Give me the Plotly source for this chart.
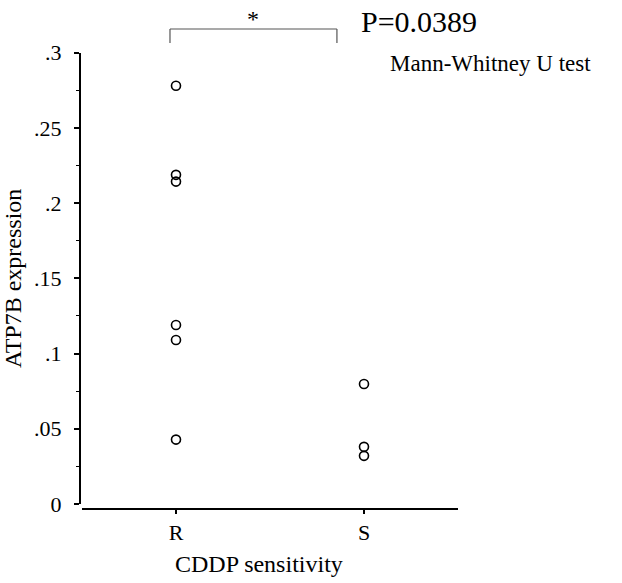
import plotly.graph_objects as go

# ---- data ----
groups = ["R", "S"]
r_values = [0.278, 0.2188, 0.2143, 0.119, 0.109, 0.0428]
s_values = [0.0798, 0.038, 0.032]
y_tickvals = [0, 0.05, 0.1, 0.15, 0.2, 0.25, 0.3]
y_ticktext = ["0", ".05", ".1", ".15", ".2", ".25", ".3"]
x_title = "CDDP sensitivity"
y_title = "ATP7B expression"
p_text = "P=0.0389"
test_text = "Mann-Whitney U test"
sig_text = "*"

W, H = 622, 583
FONT = "Liberation Serif, Times New Roman, serif"

def px(x):
    return x / W

def py(y):
    return 1 - y / H

x_dom = [px(82), px(458)]
y_dom = [py(504), py(52.7)]
x_range = [-0.5, 1.5]

def data_to_paper_x(v):
    return x_dom[0] + (v - x_range[0]) / (x_range[1] - x_range[0]) * (x_dom[1] - x_dom[0])

fig = go.Figure()
marker = dict(symbol="circle-open", size=9, color="black", line=dict(width=1.6, color="black"))
fig.add_trace(go.Scatter(x=[groups[0]] * len(r_values), y=r_values, mode="markers",
                         marker=marker, showlegend=False, cliponaxis=False))
fig.add_trace(go.Scatter(x=[groups[1]] * len(s_values), y=s_values, mode="markers",
                         marker=marker, showlegend=False, cliponaxis=False))

# significance bracket (R .. near S)
bx0 = data_to_paper_x(-0.032)
bx1 = data_to_paper_x(0.856)
by_top = py(29)
by_bot = py(43)
bracket = dict(color="#555555", width=1.2)
fig.add_shape(type="line", xref="paper", yref="paper", x0=bx0, x1=bx1, y0=by_top, y1=by_top, line=bracket)
fig.add_shape(type="line", xref="paper", yref="paper", x0=bx0, x1=bx0, y0=by_top, y1=by_bot, line=bracket)
fig.add_shape(type="line", xref="paper", yref="paper", x0=bx1, x1=bx1, y0=by_top, y1=by_bot, line=bracket)

fig.add_annotation(text=sig_text, xref="paper", yref="paper", x=data_to_paper_x(0.41), y=py(19),
                   showarrow=False, font=dict(family=FONT, size=24, color="black"),
                   xanchor="center", yanchor="middle")
fig.add_annotation(text=p_text, xref="paper", yref="paper", x=px(359), y=py(22),
                   showarrow=False, font=dict(family=FONT, size=30, color="black"),
                   xanchor="left", yanchor="middle")
fig.add_annotation(text=test_text, xref="paper", yref="paper", x=px(388), y=py(63),
                   showarrow=False, font=dict(family=FONT, size=23, color="black"),
                   xanchor="left", yanchor="middle")
fig.add_annotation(text=x_title, xref="paper", yref="paper", x=px(259), y=py(564),
                   showarrow=False, font=dict(family=FONT, size=24, color="black"),
                   xanchor="center", yanchor="middle")

fig.update_layout(
    width=W, height=H,
    margin=dict(l=0, r=0, t=0, b=0, autoexpand=False),
    paper_bgcolor="white", plot_bgcolor="white",
    font=dict(family=FONT, size=22, color="black"),
    xaxis=dict(
        type="category", categoryorder="array", categoryarray=groups,
        range=x_range, domain=x_dom, anchor="free", position=py(509),
        showline=True, linecolor="black", linewidth=2,
        ticks="outside", ticklen=4, tickwidth=1.5, tickcolor="black",
        showgrid=False, zeroline=False, automargin=False,
        tickfont=dict(family=FONT, size=22),
    ),
    yaxis=dict(
        range=[0, 0.3], domain=y_dom, anchor="free", position=px(80),
        showline=True, linecolor="black", linewidth=2,
        tickmode="array", tickvals=y_tickvals, ticktext=y_ticktext,
        ticks="outside", ticklen=5, tickwidth=1.5, tickcolor="black",
        minor=dict(ticks="outside", ticklen=3, tickwidth=1.2, tickcolor="black",
                   tickmode="linear", tick0=0, dtick=0.025),
        showgrid=False, zeroline=False, automargin=False,
        tickfont=dict(family=FONT, size=22),
        ticklabelstandoff=8,
        title=dict(text=y_title, font=dict(family=FONT, size=24), standoff=8),
    ),
)

fig.write_html("out.html", config={"displayModeBar": False},
               post_script="document.body.style.margin='0';")
